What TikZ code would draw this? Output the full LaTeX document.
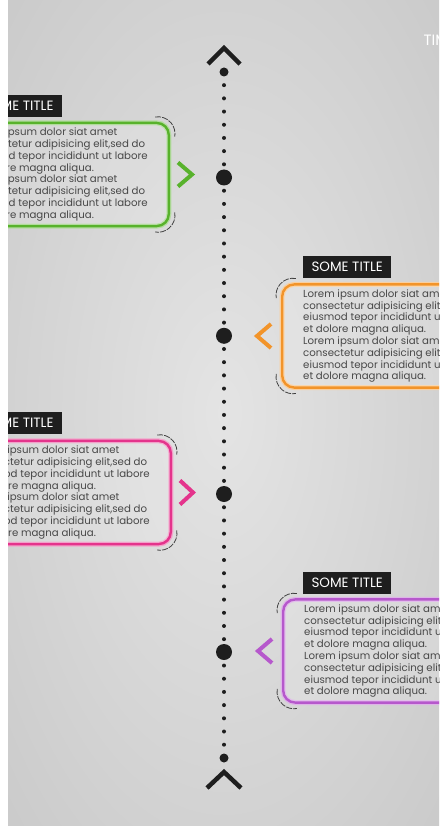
\documentclass[tikz,border=0pt]{standalone}
\usepackage{fontspec}
\setsansfont{Poppins}
\newfontfamily\titlefont{Poppins}
\definecolor{tlgreen}{RGB}{88,178,44}
\definecolor{tlorange}{RGB}{242,148,42}
\definecolor{tlpink}{RGB}{228,52,140}
\definecolor{tlpurple}{RGB}{182,88,204}
\definecolor{tldark}{RGB}{30,30,30}
\definecolor{tltext}{RGB}{72,72,72}
\definecolor{tlbglight}{RGB}{228,228,228}
\definecolor{tlbgdark}{RGB}{192,192,192}
\tikzset{every picture/.style={/utils/exec={\sffamily}}}
\usetikzlibrary{calc}
\usetikzlibrary{positioning}

\pgfdeclareradialshading{tlbg}{\pgfpoint{0bp}{0bp}}{color(0bp)=(tlbglight); color(50bp)=(tlbgdark)}

\newcommand{\calloutbody}{Lorem ipsum dolor siat amet\\ consectetur adipisicing elit,sed do\\ eiusmod tepor incididunt ut labore\\ et dolore magna aliqua.\\ Lorem ipsum dolor siat amet\\ consectetur adipisicing elit,sed do\\ eiusmod tepor incididunt ut labore\\ et dolore magna aliqua.}

\tikzset{
  callout/.style={draw=#1, line width=2.4pt, rounded corners=12pt, fill=white, fill opacity=0.15, text opacity=1, text=tltext, align=left, inner xsep=21pt, inner ysep=5pt, font=\fontsize{10.2}{11.8}\selectfont, preaction={draw=#1!45, line width=5pt}},
  calltitle/.style={fill=tldark, text=white, minimum width=88pt, minimum height=22pt, inner sep=0pt, font=\titlefont\fontsize{13.5}{13.5}\selectfont},
  chevron/.style={draw=#1, line width=4pt, miter limit=4},
  cornerarc/.style={draw=black!75, line width=0.8pt, dash pattern=on 6pt off 1.2pt},
  stem/.style={draw=tldark, line width=4pt, line cap=round, dash pattern=on 0pt off 13.19pt},
  eventdot/.style={circle, fill=tldark, minimum size=16pt, inner sep=0pt},
  enddot/.style={circle, fill=tldark, minimum size=9pt, inner sep=0pt},
  endchevron/.style={draw=tldark, line width=4.5pt, miter limit=4}
}

\begin{document}
\begin{tikzpicture}[x=1pt, y=-1pt]
  \useasboundingbox (0,0) rectangle (439,826);
  \fill[white] (0,0) rectangle (439,826);

  \begin{scope}
  \clip (8,0) rectangle (439,826);
  \shade[shading=tlbg] (8,0) rectangle (439,826);

  \node[anchor=west, text=white, font=\titlefont\fontsize{15}{15}\selectfont] (heading) at (420,40) {TIMELINE};

  % stem
  \node[enddot] (top) at (224,72) {};
  \node[enddot] (bot) at (224,758) {};
  \draw[stem] (top.center) -- (bot.center);

  \draw[endchevron] ([shift={(-16,-8)}]top.center) -- ([shift={(0,-24)}]top.center) -- ([shift={(16,-8)}]top.center);
  \draw[endchevron] ([shift={(-17,30)}]bot.center) -- ([shift={(0,14)}]bot.center) -- ([shift={(17,30)}]bot.center);

  \node[eventdot] (ev1) at (224,177.5) {};
  \node[eventdot] (ev2) at (224,335.8) {};
  \node[eventdot] (ev3) at (224,494) {};
  \node[eventdot] (ev4) at (224,652) {};

  % left callouts
  \node[callout=tlgreen, anchor=east] (box1) at (170,174.5) {\calloutbody};
  \node[calltitle, above left=5pt and 108pt of box1.north east] (title1) {SOME TITLE};
  \draw[chevron=tlgreen] ([shift={(8,-12)}]box1.east) -- ([shift={(22,0)}]box1.east) -- ([shift={(8,12)}]box1.east);
  \draw[cornerarc] ([shift={(-12,12)}]box1.north east) ++(260:17) arc[start angle=260, end angle=370, radius=17];
  \draw[cornerarc] ([shift={(-12,-12)}]box1.south east) ++(-10:17) arc[start angle=-10, end angle=100, radius=17];

  \node[callout=tlpink, anchor=east] (box3) at (172,492.5) {\calloutbody};
  \node[calltitle, above left=6pt and 110pt of box3.north east] (title3) {SOME TITLE};
  \draw[chevron=tlpink] ([shift={(8,-12)}]box3.east) -- ([shift={(21,0)}]box3.east) -- ([shift={(8,12)}]box3.east);
  \draw[cornerarc] ([shift={(-12,12)}]box3.north east) ++(260:17) arc[start angle=260, end angle=370, radius=17];
  \draw[cornerarc] ([shift={(-12,-12)}]box3.south east) ++(-10:17) arc[start angle=-10, end angle=100, radius=17];

  % right callouts
  \node[callout=tlorange, anchor=west] (box2) at (281,336) {\calloutbody};
  \node[calltitle, above right=5pt and 22pt of box2.north west] (title2) {SOME TITLE};
  \draw[chevron=tlorange] ([shift={(-10,-12)}]box2.west) -- ([shift={(-24,0)}]box2.west) -- ([shift={(-10,12)}]box2.west);
  \draw[cornerarc] ([shift={(12,12)}]box2.north west) ++(280:17) arc[start angle=280, end angle=170, radius=17];
  \draw[cornerarc] ([shift={(12,-12)}]box2.south west) ++(190:17) arc[start angle=190, end angle=80, radius=17];

  \node[callout=tlpurple, anchor=west] (box4) at (282,651) {\calloutbody};
  \node[calltitle, above right=4pt and 21pt of box4.north west] (title4) {SOME TITLE};
  \draw[chevron=tlpurple] ([shift={(-10,-12)}]box4.west) -- ([shift={(-24,0)}]box4.west) -- ([shift={(-10,12)}]box4.west);
  \draw[cornerarc] ([shift={(12,12)}]box4.north west) ++(280:17) arc[start angle=280, end angle=170, radius=17];
  \draw[cornerarc] ([shift={(12,-12)}]box4.south west) ++(190:17) arc[start angle=190, end angle=80, radius=17];
  \end{scope}

\end{tikzpicture}
\end{document}
